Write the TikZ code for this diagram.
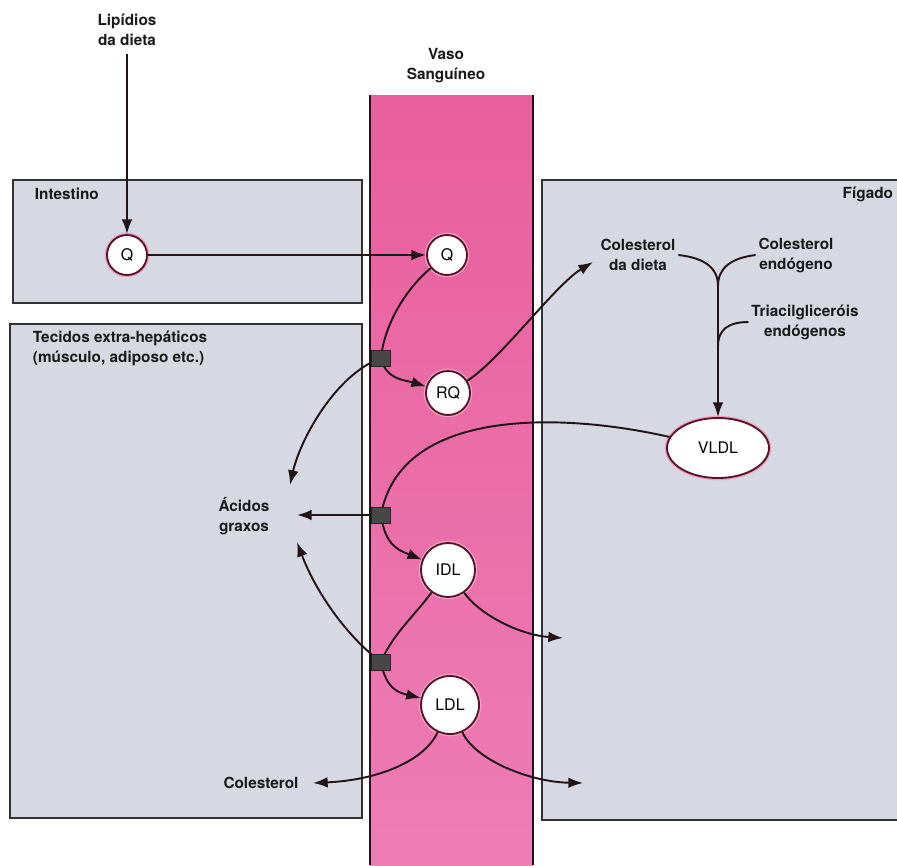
\documentclass[tikz,border=0pt]{standalone}
\usepackage{fontspec}
\setmainfont{TeX Gyre Heros}
\usetikzlibrary{arrows.meta,shapes.geometric}
\definecolor{boxfill}{RGB}{214,217,226}
\definecolor{boxline}{RGB}{50,50,55}
\definecolor{pinktop}{RGB}{232,95,155}
\definecolor{pinkbot}{RGB}{238,125,182}
\definecolor{ringc}{RGB}{85,20,40}
\definecolor{ringglow}{RGB}{240,160,195}
\definecolor{linec}{RGB}{35,20,25}
\begin{document}
\begin{tikzpicture}[x=0.75pt,y=-0.75pt,
  region/.style={draw=boxline, line width=1.5pt, fill=boxfill},
  lab/.style={font=\fontsize{11.5}{15}\selectfont\bfseries, align=center, inner sep=2pt, text=black!90},
  lp/.style={circle, draw=ringc, fill=white, line width=1.4pt, inner sep=0pt,
    font=\fontsize{12}{14}\selectfont, preaction={draw=ringglow, line width=3.4pt}},
  flow/.style={draw=linec, line width=1.45pt},
  arr/.style={flow, -{Latex[length=11pt,width=8pt]}},
  gate/.style={rectangle, fill=black!72, draw=black!85, line width=0.6pt,
    minimum width=14.25pt, minimum height=12pt, inner sep=0pt}
]
\useasboundingbox (0,0) rectangle (897,865);
\fill[white] (0,0) rectangle (897,865);

% compartments
\draw[region] (13,180) rectangle (362,303);
\draw[region] (10,324) rectangle (362,818);
\draw[region] (542,180) rectangle (905,820);

% blood vessel
\shade[top color=pinktop, bottom color=pinkbot] (370,95) rectangle (533,865);
\draw[line width=1.5pt, black!90] (370,95) -- (370,865);
\draw[line width=1.5pt, black!90] (533,95) -- (533,865);

% labels
\node[lab, anchor=west] (intl) at (32,194) {Intestino};
\node[lab, anchor=west, align=left] (tecl) at (30,348) {Tecidos extra-hepáticos\\(músculo, adiposo etc.)};
\node[lab, anchor=east] (figl) at (896,194) {Fígado};
\node[lab] (lip) at (127,30) {Lipídios\\da dieta};
\node[lab] (vaso) at (446,66) {Vaso\\Sanguíneo};
\node[lab] (acid) at (244,516) {Ácidos\\graxos};
\node[lab] (col) at (261,783) {Colesterol};
\node[lab] (cd) at (638,255) {Colesterol\\da dieta};
\node[lab] (ce) at (796,255) {Colesterol\\endógeno};
\node[lab] (tg) at (805,322) {Triacilgliceróis\\endógenos};

% lipoprotein particles
\node[lp, minimum size=30pt] (qi) at (127,255) {Q};
\node[lp, minimum size=30pt] (qb) at (447,255) {Q};
\node[lp, minimum size=33pt] (rq) at (448,393) {RQ};
\node[lp, minimum size=40.5pt] (idl) at (448,570) {IDL};
\node[lp, minimum size=43.5pt] (ldl) at (450,705) {LDL};
\node[lp, ellipse, minimum width=76.5pt, minimum height=45pt] (vldl) at (718,448) {VLDL};

% free ends
\coordinate (ac1) at (290,485);
\coordinate (ac2) at (297,515);
\coordinate (ac3) at (297,542);
\coordinate (f1) at (563,638);
\coordinate (f2) at (583,783);
\coordinate (c1) at (593,262);
\coordinate (cl) at (313,783);
\coordinate (J) at (718,286);
\coordinate (J2) at (718,346);

% connectors
\draw[arr, shorten <=4pt] (lip) -- (qi);
\draw[arr] (qi) -- (qb);
\draw[flow] (qb) .. controls (410,285) and (385,320) .. (381,358);
\draw[arr] (381,358) .. controls (386,380) and (405,380) .. (rq);
\draw[arr] (381,358) .. controls (335,375) and (300,440) .. (ac1);
\draw[flow] (vldl) .. controls (560,412) and (400,408) .. (381,515);
\draw[arr] (381,515) .. controls (385,545) and (398,550) .. (idl);
\draw[arr] (381,515) -- (ac2);
\draw[flow] (idl) .. controls (415,615) and (392,635) .. (381,662);
\draw[arr] (381,662) .. controls (386,690) and (400,693) .. (ldl);
\draw[arr] (381,662) .. controls (345,635) and (315,590) .. (ac3);
\draw[arr] (idl) .. controls (480,615) and (520,635) .. (f1);
\draw[arr] (ldl) .. controls (425,760) and (380,780) .. (cl);
\draw[arr] (ldl) .. controls (475,760) and (530,782) .. (f2);
\draw[arr] (rq) .. controls (500,360) and (555,285) .. (c1);
\draw[flow] (cd.east) .. controls (705,258) and (718,268) .. (J);
\draw[flow] (ce.west) .. controls (731,258) and (718,268) .. (J);
\draw[flow] (tg.west) .. controls (728,322) and (718,330) .. (J2);
\draw[arr] (J) -- (vldl);

% lipase gates on the vessel wall
\node[gate] (g1) at (381,358) {};
\node[gate] (g2) at (381,515) {};
\node[gate] (g3) at (381,662) {};
\end{tikzpicture}
\end{document}
